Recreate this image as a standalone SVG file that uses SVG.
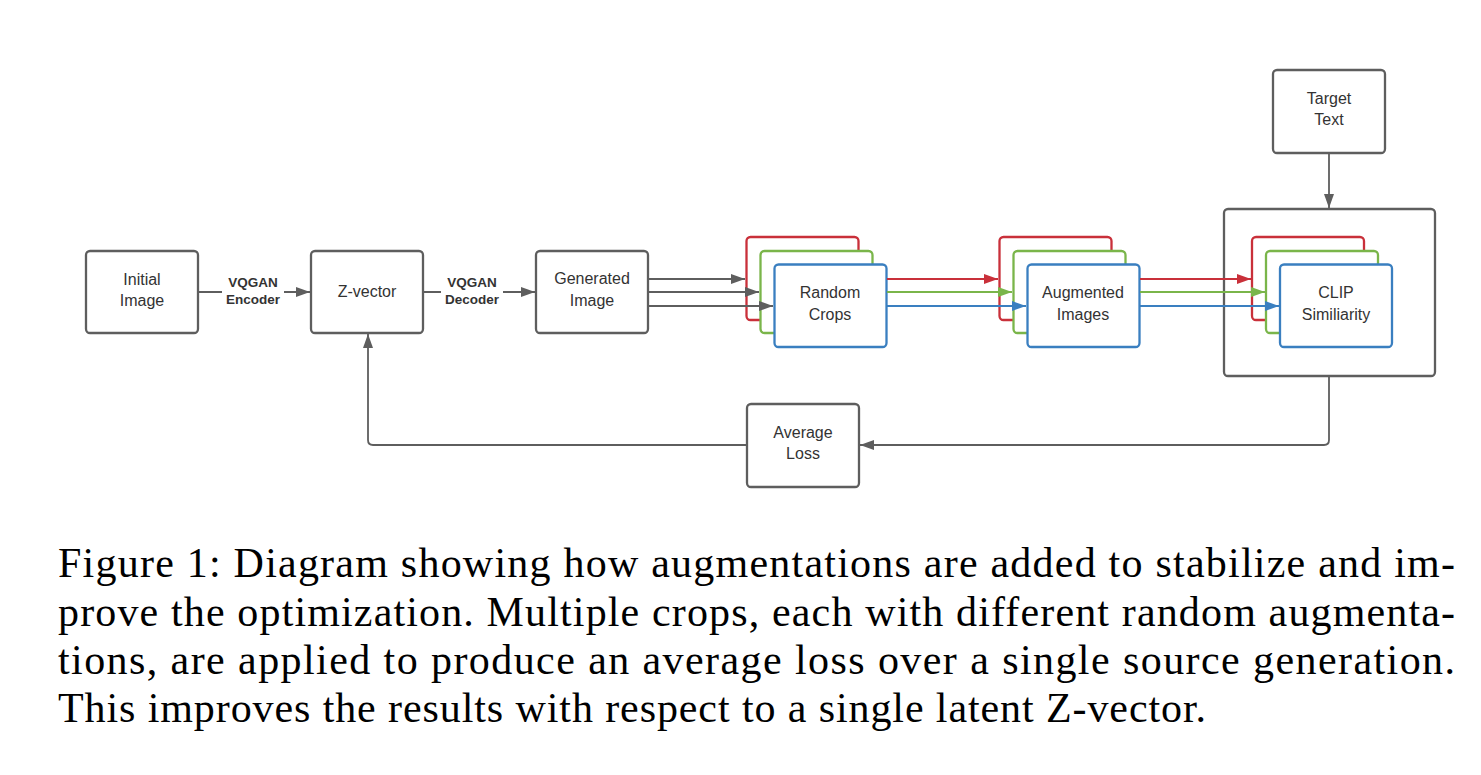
<svg xmlns="http://www.w3.org/2000/svg" width="1481" height="775" viewBox="0 0 1481 775">
<style>
.box{fill:#fff;stroke:#5e5e5e;stroke-width:2.3}
.r{fill:#fff;stroke:#c9303a;stroke-width:2.3}
.g{fill:#fff;stroke:#7ab54a;stroke-width:2.3}
.b{fill:#fff;stroke:#3a7fc0;stroke-width:2.3}
.t{font-family:"Liberation Sans",Arial,sans-serif;font-size:16px;fill:#333;text-anchor:middle}
.lbl{font-family:"Liberation Sans",Arial,sans-serif;font-size:13.5px;font-weight:bold;fill:#333;text-anchor:middle}
.c{fill:none;stroke-width:1.8}
.cg{stroke:#5e5e5e}
.cr{stroke:#c9303a}
.cgr{stroke:#7ab54a}
.cb{stroke:#3a7fc0}
.cap{font-family:"Liberation Serif","Times New Roman",serif;font-size:42px;fill:#000}
</style>
<defs>
<marker id="ag" markerUnits="userSpaceOnUse" markerWidth="14" markerHeight="12" refX="14" refY="6" orient="auto"><path d="M0,1 L14,6 L0,11 Z" fill="#5e5e5e"/></marker>
<marker id="ar" markerUnits="userSpaceOnUse" markerWidth="14" markerHeight="12" refX="14" refY="6" orient="auto"><path d="M0,1 L14,6 L0,11 Z" fill="#c9303a"/></marker>
<marker id="agr" markerUnits="userSpaceOnUse" markerWidth="14" markerHeight="12" refX="14" refY="6" orient="auto"><path d="M0,1 L14,6 L0,11 Z" fill="#7ab54a"/></marker>
<marker id="ab" markerUnits="userSpaceOnUse" markerWidth="14" markerHeight="12" refX="14" refY="6" orient="auto"><path d="M0,1 L14,6 L0,11 Z" fill="#3a7fc0"/></marker>
</defs>
<rect width="1481" height="775" fill="#fff"/>

<g id="initial-image">
<rect class="box" x="86" y="251" width="112" height="82" rx="4"/>
<text class="t" x="142" y="285">Initial</text>
<text class="t" x="142" y="306">Image</text>
</g>
<g id="z-vector">
<rect class="box" x="311" y="251" width="112" height="82" rx="4"/>
<text class="t" x="367" y="297">Z-vector</text>
</g>
<g id="generated-image">
<rect class="box" x="536" y="251" width="112" height="82" rx="4"/>
<text class="t" x="592" y="284">Generated</text>
<text class="t" x="592" y="306">Image</text>
</g>
<g id="random-crops">
<rect class="r" x="746.5" y="237" width="112" height="83" rx="4"/>
<rect class="g" x="760.5" y="251" width="112" height="82" rx="4"/>
<rect class="b" x="774.5" y="264.5" width="112" height="82.5" rx="4"/>
<text class="t" x="830" y="298">Random</text>
<text class="t" x="830" y="320">Crops</text>
</g>
<g id="augmented-images">
<rect class="r" x="999.5" y="237" width="112" height="83" rx="4"/>
<rect class="g" x="1013.5" y="251" width="112" height="82" rx="4"/>
<rect class="b" x="1027.5" y="264.5" width="112" height="82.5" rx="4"/>
<text class="t" x="1083" y="298">Augmented</text>
<text class="t" x="1083" y="320">Images</text>
</g>
<g id="clip-group">
<rect class="box" x="1224" y="209" width="211" height="167" rx="4"/>
</g>
<g id="clip-similarity">
<rect class="r" x="1252" y="237" width="112" height="83" rx="4"/>
<rect class="g" x="1266" y="251" width="112" height="82" rx="4"/>
<rect class="b" x="1280" y="264.5" width="112" height="82.5" rx="4"/>
<text class="t" x="1336" y="298">CLIP</text>
<text class="t" x="1336" y="320">Similiarity</text>
</g>
<g id="target-text">
<rect class="box" x="1273" y="70" width="112" height="83" rx="4"/>
<text class="t" x="1329" y="104">Target</text>
<text class="t" x="1329" y="125">Text</text>
</g>
<g id="average-loss">
<rect class="box" x="747" y="404" width="112" height="83" rx="4"/>
<text class="t" x="803" y="438">Average</text>
<text class="t" x="803" y="459">Loss</text>
</g>

<g id="connectors">
<path class="c cg" d="M198,292 H310" marker-end="url(#ag)"/>
<rect x="222" y="273" width="62" height="32" fill="#fff"/>
<text class="lbl" x="253" y="287">VQGAN</text>
<text class="lbl" x="253" y="304">Encoder</text>
<path class="c cg" d="M423,292 H535" marker-end="url(#ag)"/>
<rect x="441" y="273" width="62" height="32" fill="#fff"/>
<text class="lbl" x="472" y="287">VQGAN</text>
<text class="lbl" x="472" y="304">Decoder</text>
<path class="c cg" d="M648,279 H745" marker-end="url(#ag)"/>
<path class="c cg" d="M648,292 H759" marker-end="url(#ag)"/>
<path class="c cg" d="M648,306 H773" marker-end="url(#ag)"/>
<path class="c cr" d="M887,279 H998" marker-end="url(#ar)"/>
<path class="c cgr" d="M887,292 H1012" marker-end="url(#agr)"/>
<path class="c cb" d="M887,306 H1026" marker-end="url(#ab)"/>
<path class="c cr" d="M1140,279 H1251" marker-end="url(#ar)"/>
<path class="c cgr" d="M1140,292 H1265" marker-end="url(#agr)"/>
<path class="c cb" d="M1140,306 H1279" marker-end="url(#ab)"/>
<path class="c cg" d="M1329,153 V208" marker-end="url(#ag)"/>
<path class="c cg" d="M1329,376 V440 Q1329,445 1324,445 H860" marker-end="url(#ag)"/>
<path class="c cg" d="M747,445 H373 Q368,445 368,440 V334" marker-end="url(#ag)"/>
</g>

<g id="caption">
<text class="cap" x="58" y="577" textLength="1397" lengthAdjust="spacing">Figure 1: Diagram showing how augmentations are added to stabilize and im-</text>
<text class="cap" x="58" y="626" textLength="1397" lengthAdjust="spacing">prove the optimization. Multiple crops, each with different random augmenta-</text>
<text class="cap" x="58" y="674" textLength="1397" lengthAdjust="spacing">tions, are applied to produce an average loss over a single source generation.</text>
<text class="cap" x="58" y="722" textLength="1148" lengthAdjust="spacing">This improves the results with respect to a single latent Z-vector.</text>
</g>
</svg>
